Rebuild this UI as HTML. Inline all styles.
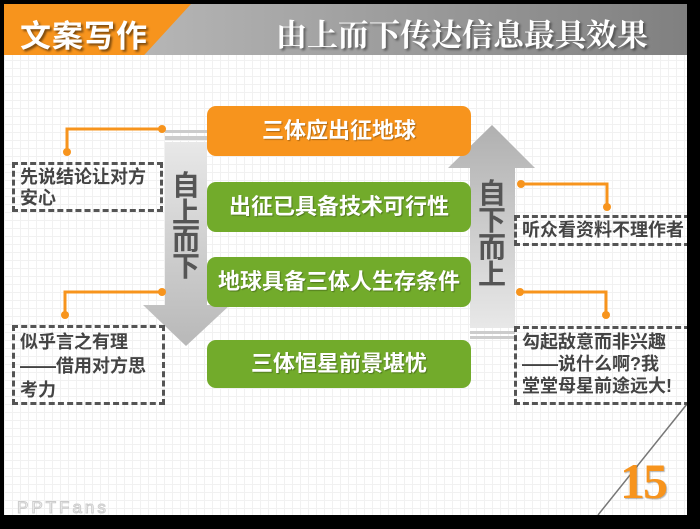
<!DOCTYPE html>
<html><head><meta charset="utf-8"><style>
*{margin:0;padding:0;box-sizing:border-box}
body{width:700px;height:529px;background:#000;position:relative;overflow:hidden;font-family:"Liberation Sans","Noto Sans CJK SC",sans-serif}
.slide{position:absolute;left:4px;top:4px;width:683px;height:511px;background-color:#fff;background-image:linear-gradient(#f1f1f1 1px,transparent 1px),linear-gradient(90deg,#f1f1f1 1px,transparent 1px);background-size:8px 8px;overflow:hidden}
.abs{position:absolute}
.box{position:absolute;left:207px;width:264px;border-radius:9px;color:#fff;font-weight:bold;font-size:22px;text-align:center;text-shadow:1px 1px 1px rgba(0,0,0,.3);white-space:nowrap}
.g{background:#72ab2b}
.dash{position:absolute;border:3px dashed #555;color:#444;font-size:18px;font-weight:bold;line-height:23px;padding:2px 5px}
.vt{position:absolute;width:30px;font-size:28px;font-weight:bold;color:#555;line-height:27px;text-align:center}
</style></head><body>
<div class="slide">
 <div class="abs" style="left:0;top:0;width:683px;height:51px;background:linear-gradient(90deg,#c4c4c4,#a8a8a8 40%,#808080)"></div>
 <div class="abs" style="left:0;top:0;width:187px;height:51px;background:#f7941d;clip-path:polygon(0 0,100% 0,75% 100%,0 100%)"></div>
 <div class="abs" style="left:16px;top:7px;font-size:31px;font-weight:bold;color:#fff;text-shadow:2px 2px 2px rgba(0,0,0,.5);letter-spacing:1px">文案写作</div>
 <div class="abs" style="left:272px;top:6px;font-family:'Noto Serif CJK SC',serif;font-weight:bold;font-size:31px;color:#fff;text-shadow:2px 2px 2px rgba(0,0,0,.4)">由上而下传达信息最具效果</div>
 <svg class="abs" style="left:0;top:0" width="683" height="511"><line x1="594" y1="511" x2="683" y2="400" stroke="#777" stroke-width="1.5"/></svg>
</div>
<svg class="abs" style="left:0;top:0" width="700" height="529">
 <defs>
  <linearGradient id="ad" x1="0" y1="0" x2="0" y2="1"><stop offset="0" stop-color="#e8e8e8"/><stop offset="1" stop-color="#b8b8b8"/></linearGradient>
  <linearGradient id="au" x1="0" y1="1" x2="0" y2="0"><stop offset="0" stop-color="#e8e8e8"/><stop offset="1" stop-color="#b0b0b0"/></linearGradient>
 </defs>
 <rect x="165" y="130" width="42" height="3" fill="#ccc"/>
 <rect x="165" y="136" width="42" height="4" fill="#ccc"/>
 <polygon points="165,142 207,142 207,305 230,305 186,346 143,305 165,305" fill="url(#ad)"/>
 <polygon points="492,125 535,168 515,168 515,328 470,328 470,168 448,168" fill="url(#au)"/>
 <rect x="470" y="331" width="45" height="3" fill="#ccc"/>
 <rect x="470" y="336" width="45" height="3" fill="#ccc"/>
 <g stroke="#f7941d" stroke-width="3" fill="none">
  <polyline points="162,129 67,129 67,152"/>
  <polyline points="162,292 65,292 65,315"/>
  <polyline points="521,184 607,184 607,207"/>
  <polyline points="520,292 606,292 606,315"/>
 </g>
 <g fill="#f7941d">
  <circle cx="162" cy="129" r="4"/><circle cx="67" cy="152" r="4"/>
  <circle cx="162" cy="292" r="4"/><circle cx="65" cy="315" r="4"/>
  <circle cx="521" cy="184" r="4"/><circle cx="607" cy="207" r="4"/>
  <circle cx="520" cy="292" r="4"/><circle cx="606" cy="315" r="4"/>
 </g>
</svg>
<div class="box" style="top:106px;height:50px;line-height:50px;background:#f7941d">三体应出征地球</div>
<div class="box g" style="top:182px;height:50px;line-height:50px">出征已具备技术可行性</div>
<div class="box g" style="top:257px;height:50px;line-height:50px">地球具备三体人生存条件</div>
<div class="box g" style="top:340px;height:48px;line-height:48px">三体恒星前景堪忧</div>
<div class="vt" style="left:171px;top:172px">自上而下</div>
<div class="vt" style="left:477px;top:180px">自下而上</div>
<div class="dash" style="left:12px;top:162px;width:151px;height:50px;line-height:21px">先说结论让对方<br>安心</div>
<div class="dash" style="left:12px;top:325px;width:153px;height:80px;line-height:24px">似乎言之有理<br>——借用对方思<br>考力</div>
<div class="dash" style="left:514px;top:215px;width:185px;height:31px;line-height:20px;white-space:nowrap">听众看资料不理作者</div>
<div class="dash" style="left:514px;top:326px;width:185px;height:79px;line-height:22px;white-space:nowrap">勾起敌意而非兴趣<br>——说什么啊?我<br>堂堂母星前途远大!</div>
<div style="position:absolute;left:687px;top:0;width:13px;height:529px;background:#000"></div>
<div style="position:absolute;left:0;top:515px;width:700px;height:14px;background:#000"></div>
<div class="abs" style="left:620px;top:452px;font-family:'Liberation Serif',serif;font-weight:bold;font-size:50px;color:#f7941d;letter-spacing:-2px;text-shadow:1px 1px 1px rgba(0,0,0,.3)">15</div>
<div class="abs" style="left:17px;top:498px;font-size:17px;color:#fff;-webkit-text-stroke:1px #ccc;letter-spacing:3px">PPTFans</div>
</body></html>
